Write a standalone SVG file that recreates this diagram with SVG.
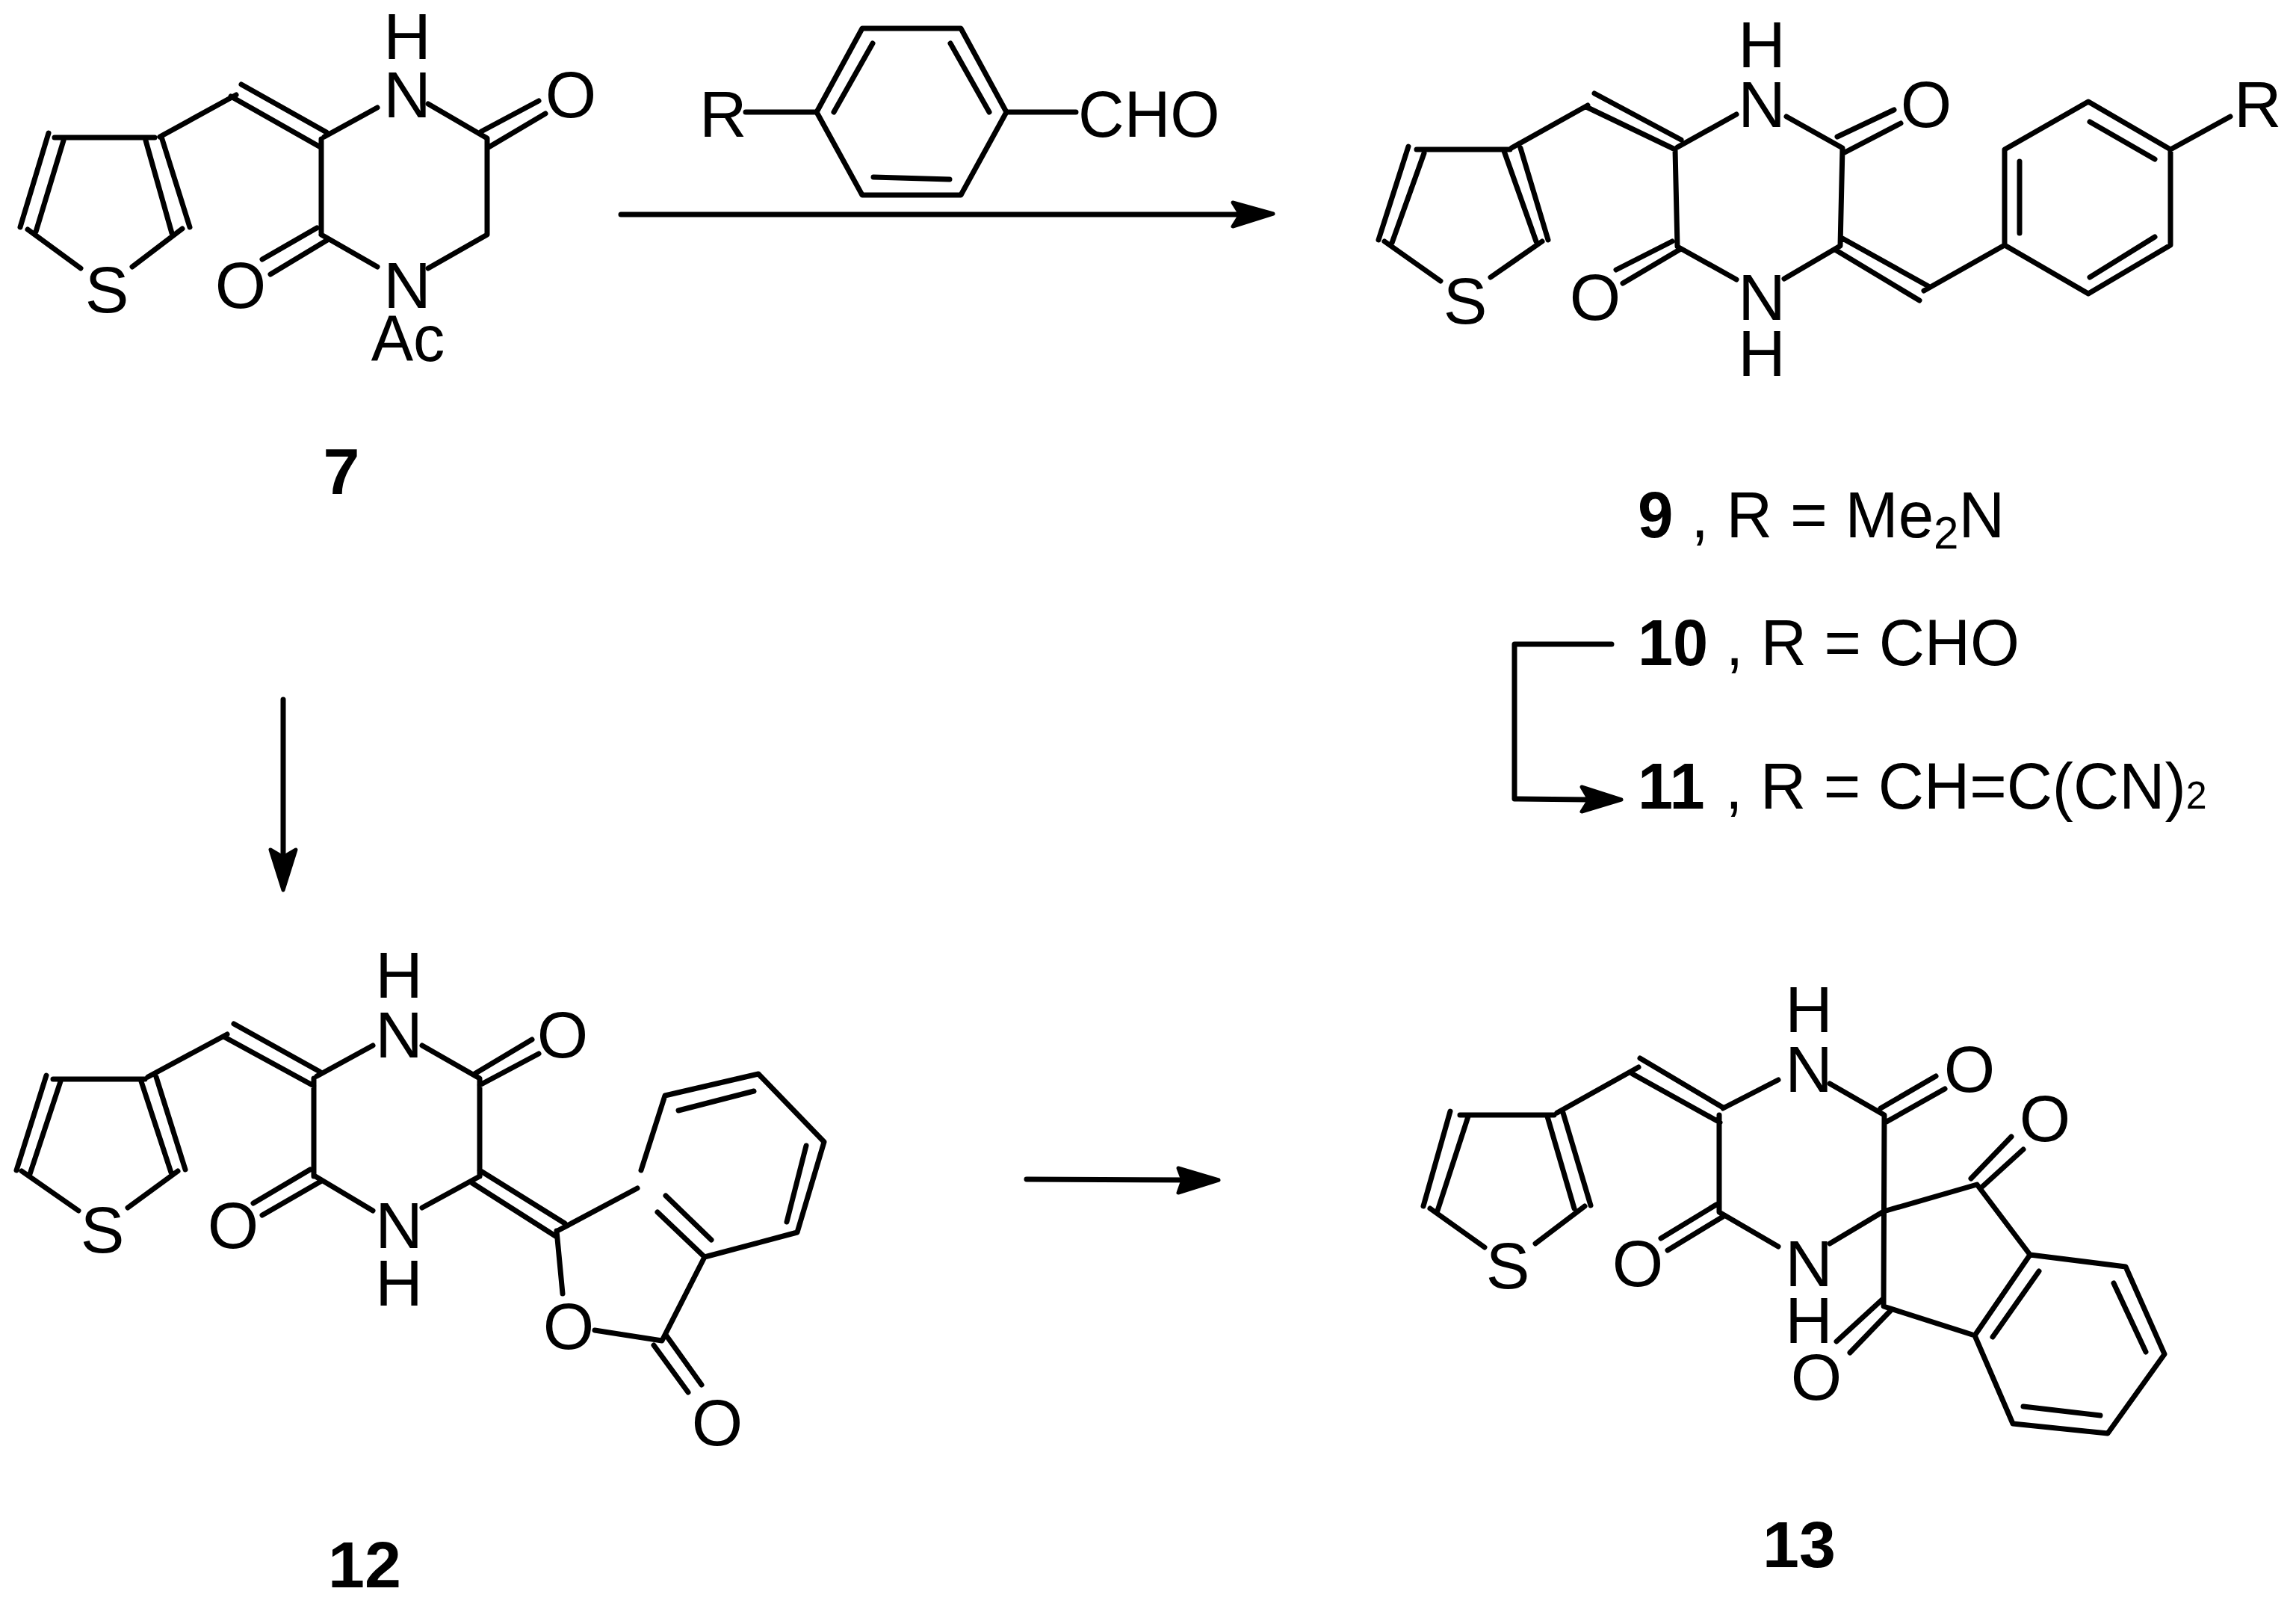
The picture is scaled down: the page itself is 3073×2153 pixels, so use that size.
<svg xmlns="http://www.w3.org/2000/svg" width="3073" height="2153" viewBox="0 0 3073 2153">
<style>
.b{fill:none;stroke:#000;stroke-width:7;stroke-linecap:round;stroke-linejoin:round}
text{font-family:"Liberation Sans",Arial,sans-serif;font-size:88px;fill:#000}
.m{text-anchor:middle}
.n{font-weight:bold}
.s{font-size:62px}
.t{font-size:52px}
.h{fill:#000;stroke:#000;stroke-width:5;stroke-linejoin:round}
</style>
<rect width="3073" height="2153" fill="#fff"/>
<g id="compound-7">
<path class="b" d="M73 184H207M65 178L27 304M85 188L48 310M195 188L230 312M216 183L254 304M37 307L108 359M177 357L244 306M214 183L316 127M309 129L429 197M323 113L437 177M430 186V312M434 183L505 144M573 139L652 185V314L573 359M430 314L505 357M644 176L721 135M654 197L730 152M424 305L351 347M440 320L362 367"/>
<text class="m" x="545" y="79">H</text><text class="m" x="545" y="157">N</text><text class="m" x="764" y="157">O</text><text class="m" x="322" y="412">O</text><text class="m" x="545" y="412">N</text><text class="m" transform="translate(546 483) scale(.96 1)">Ac</text><text class="m" x="143" y="418">S</text>
<text class="m n" x="457" y="661">7</text>
</g>
<g id="reagent">
<path class="b" d="M1154 38H1286L1347 150L1286 261H1154L1093 150ZM1168 58L1116 150M1272 58L1324 150M1169 237L1271 240M998 150H1093M1347 150H1440"/>
<text x="936" y="183">R</text><text transform="translate(1443 183) scale(.97 1)">CHO</text>
</g>
<g id="compound-9">
<path class="b" d="M1896 200H2021M1885 196L1845 321M1906 205L1863 325M2035 198L2072 321M2013 202L2056 323M1853 323L1928 376M1995 371L2064 323M2023 198L2125 141M2123 143L2242 200M2134 125L2250 187M2242 200L2245 330L2324 374M2245 197L2324 153M2391 156L2466 198L2463 329L2388 373M2459 183L2535 147M2467 205L2544 165M2238 323L2163 361M2248 334L2172 379M2466 319L2581 383M2456 334L2569 402M2575 389L2683 328V200L2795 136L2905 200V328L2795 393L2683 328M2703 216V312M2797 163L2884 213M2797 371L2884 317M2905 200L2985 156"/>
<text class="m" x="2358" y="90">H</text><text class="m" x="2358" y="170">N</text><text class="m" x="2578" y="170">O</text><text class="m" x="2358" y="428">N</text><text class="m" x="2358" y="503">H</text><text class="m" x="2135" y="428">O</text><text class="m" x="1961" y="433">S</text><text x="2990" y="170">R</text>
<text transform="translate(2192 719) scale(.97 1)"><tspan class="n">9</tspan> , R = Me<tspan class="s" dy="15">2</tspan><tspan dy="-15">N</tspan></text>
</g>
<g id="compound-10"><text transform="translate(2192 890) scale(.963 1)"><tspan class="n">10</tspan> , R = CHO</text></g>
<g id="compound-11"><text transform="translate(2192 1082) scale(.963 1)"><tspan class="n">11</tspan><tspan dx="4"> , R = CH=C(CN)</tspan><tspan class="t">2</tspan></text></g>
<g id="compound-12">
<path class="b" d="M71 1444H194M62 1439L22 1566M81 1447L40 1571M189 1447L229 1569M209 1441L248 1565M29 1567L105 1620M171 1616L238 1567M198 1441L304 1384M301 1388L420 1453M313 1370L428 1434M420 1443V1574M424 1440L499 1399M565 1399L642 1443V1574M422 1574L499 1620M565 1616L642 1574M635 1437L712 1391M642 1452L721 1410M415 1565L339 1610M429 1581L351 1626M642 1566L756 1637M632 1583L745 1655M746 1647L853 1590M745 1647L753 1731M796 1780L886 1794L943 1682M858 1566L890 1466L1015 1437L1103 1528L1067 1649L943 1682L880 1622M891 1600L952 1659M908 1486L1009 1460M1079 1533L1053 1635M875 1800L921 1863M891 1786L939 1853"/>
<text class="m" x="534" y="1335">H</text><text class="m" x="534" y="1415">N</text><text class="m" x="753" y="1415">O</text><text class="m" x="534" y="1670">N</text><text class="m" x="534" y="1747">H</text><text class="m" x="312" y="1670">O</text><text class="m" x="137" y="1676">S</text><text class="m" x="761" y="1805">O</text><text class="m" x="960" y="1934">O</text>
<text class="m n" x="488" y="2124">12</text>
</g>
<g id="compound-13">
<path class="b" d="M1954 1492H2080M1941 1487L1905 1614M1965 1494L1924 1620M2071 1494L2107 1617M2092 1489L2129 1613M1914 1617L1987 1669M2055 1664L2121 1614M2084 1489L2193 1428M2185 1437L2302 1502M2195 1416L2306 1482M2301 1492V1622L2380 1668M2306 1483L2380 1445M2449 1450L2522 1492L2521 1748L2643 1787L2717 1679L2646 1585L2521 1621L2449 1664M2517 1483L2591 1440M2525 1501L2603 1457M2297 1612L2223 1657M2306 1628L2232 1673M2667 1789L2729 1701M2638 1577L2692 1521M2653 1588L2708 1538M2519 1739L2458 1795M2530 1754L2476 1810M2717 1679L2845 1695L2897 1812L2821 1918L2694 1905L2643 1787M2829 1717L2872 1809M2708 1882L2811 1894"/>
<text class="m" x="2421" y="1381">H</text><text class="m" x="2421" y="1461">N</text><text class="m" x="2636" y="1461">O</text><text class="m" x="2737" y="1527">O</text><text class="m" x="2421" y="1721">N</text><text class="m" x="2421" y="1797">H</text><text class="m" x="2192" y="1721">O</text><text class="m" x="2431" y="1873">O</text><text class="m" x="2018" y="1724">S</text>
<text class="m n" x="2408" y="2097">13</text>
</g>
<g id="connectors">
<path class="b" d="M831 287H1655"/><path class="h" d="M1704 286L1650 271L1660 287L1650 303Z"/>
<path class="b" d="M2157 862H2027V1069L2125 1070"/><path class="h" d="M2170 1070L2117 1053L2127 1070L2117 1086Z"/>
<path class="b" d="M379 936V1160"/><path class="h" d="M379 1191L362 1137L379 1147L396 1137Z"/>
<path class="b" d="M1374 1578L1600 1579"/><path class="h" d="M1631 1579L1577 1563L1583 1579L1577 1596Z"/>
</g>
</svg>
